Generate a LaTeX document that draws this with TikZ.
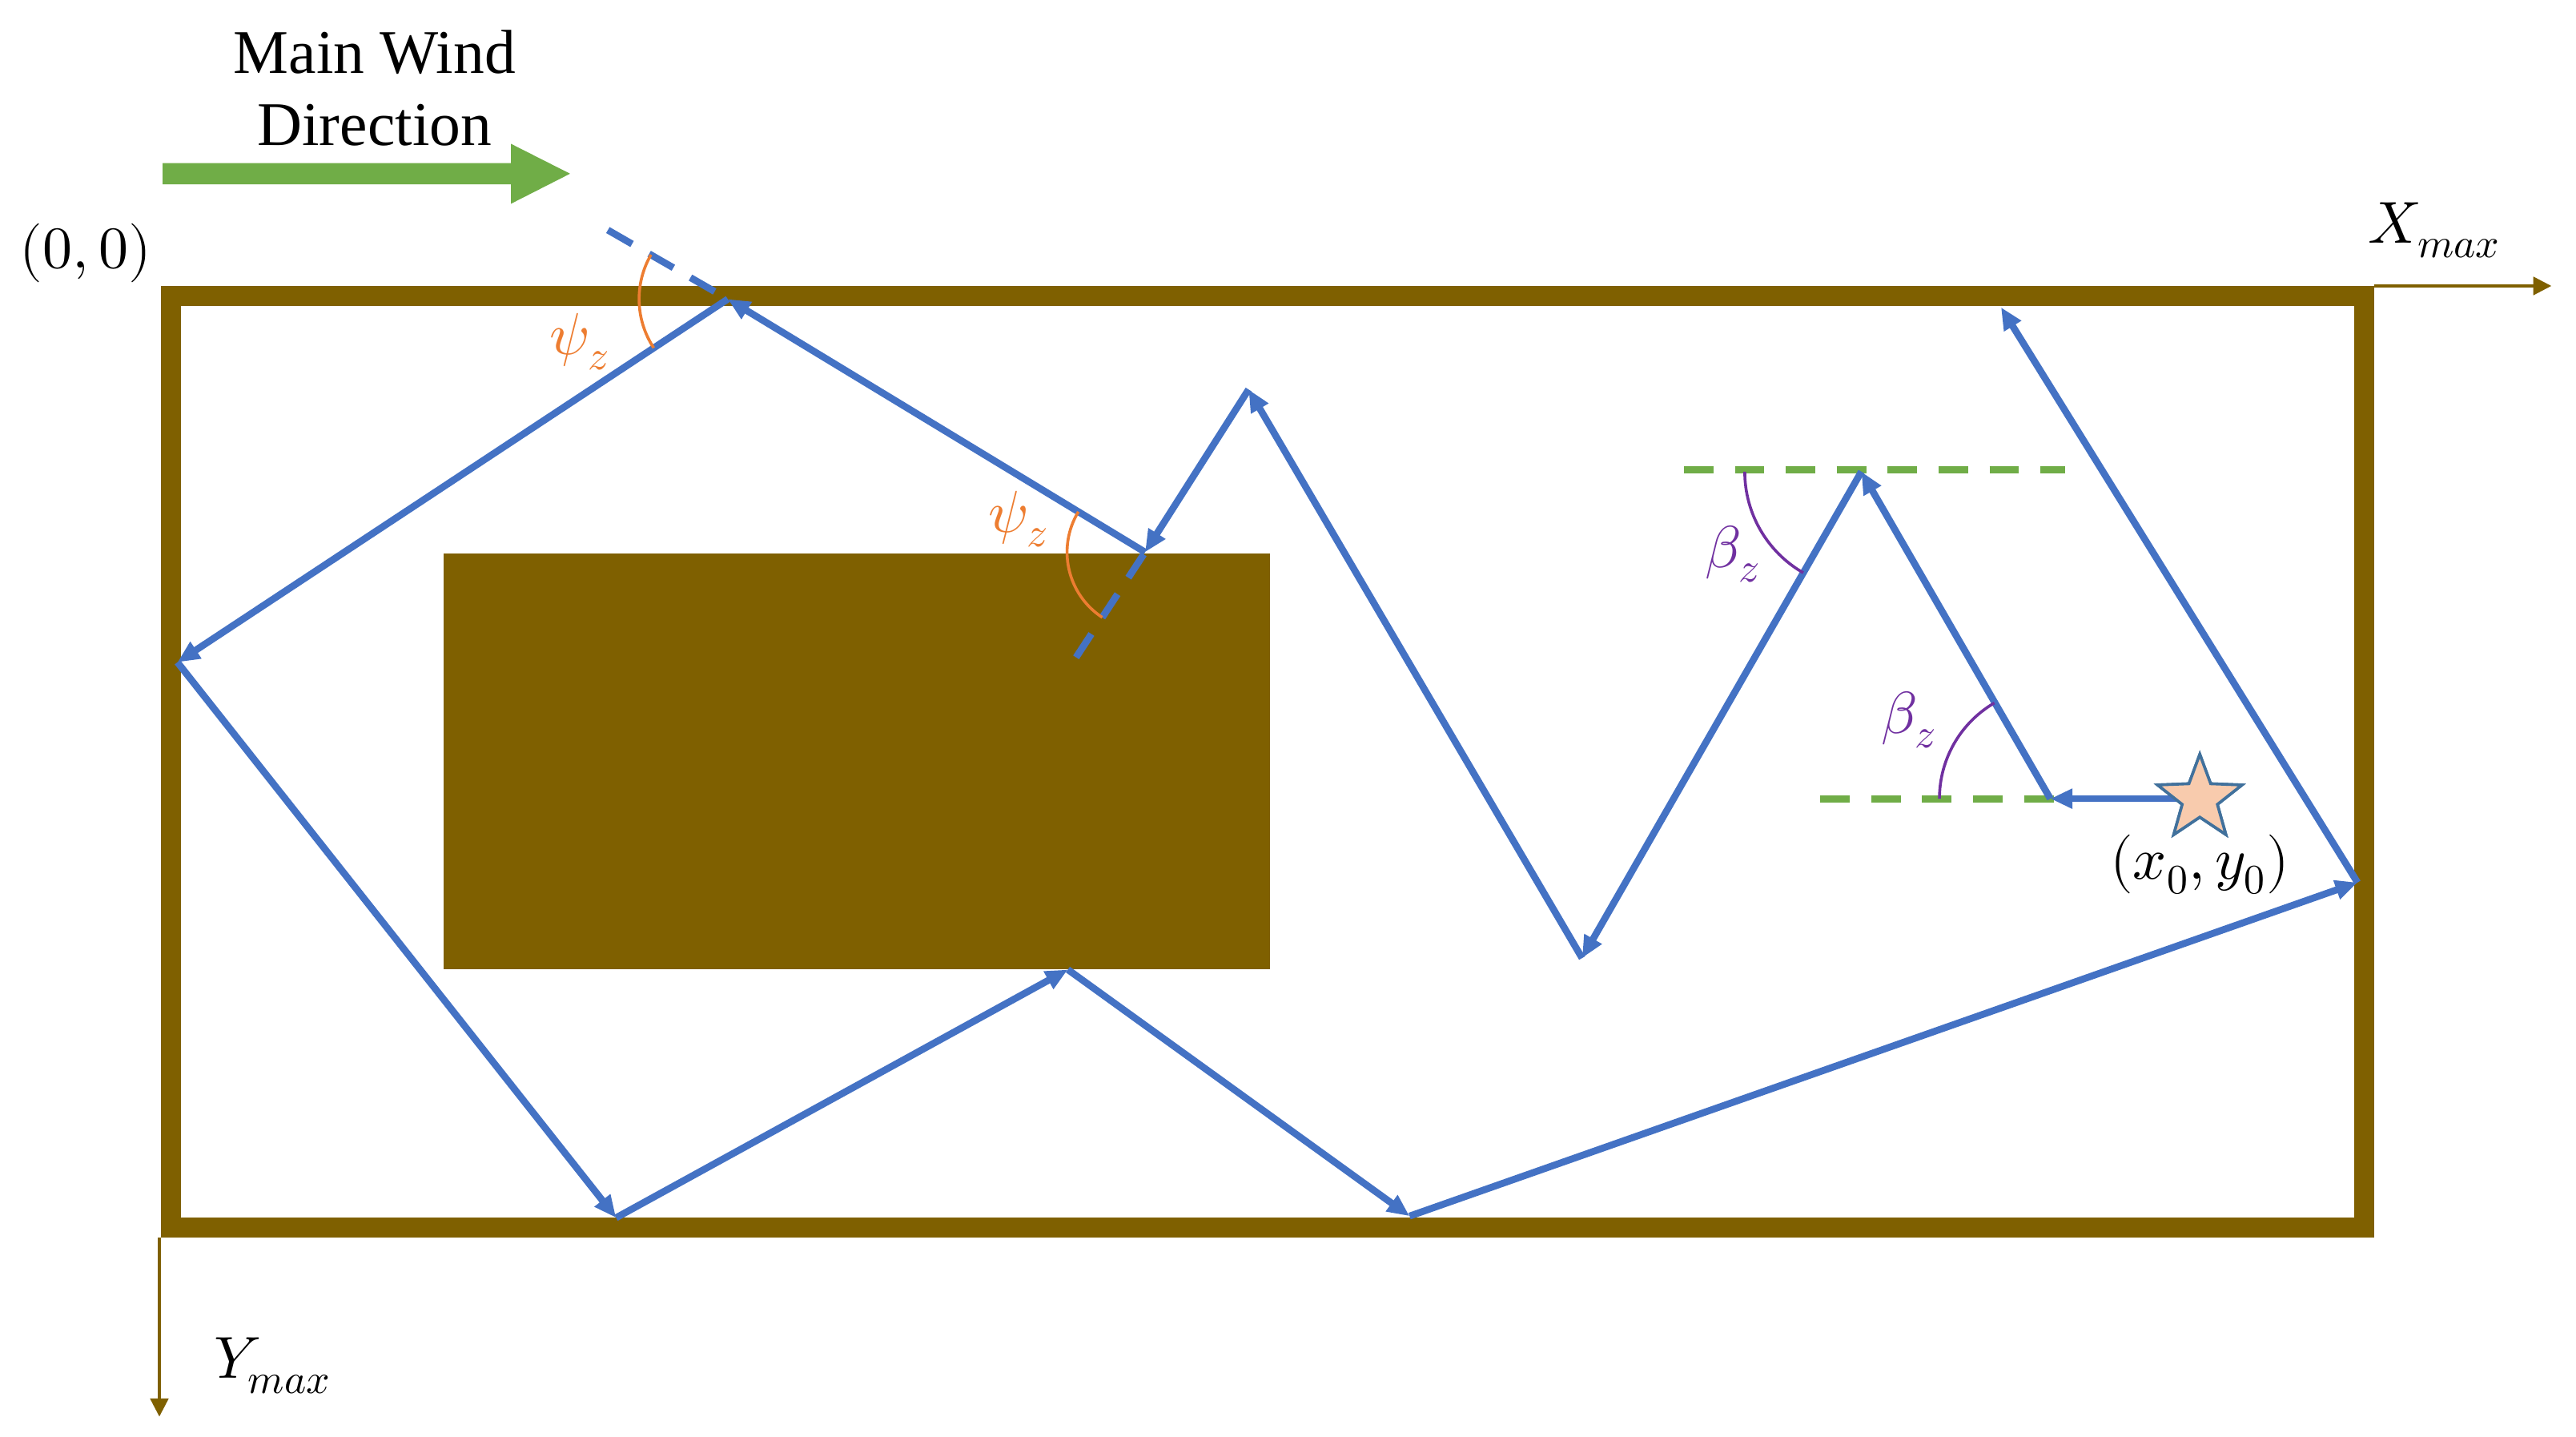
\documentclass[tikz,border=0pt]{standalone}
\usepackage{fontspec}
\usepackage{unicode-math}
\setmainfont{Liberation Serif}
\usetikzlibrary{arrows.meta,shapes.geometric}
\definecolor{framebrown}{HTML}{7F6000}
\definecolor{pathblue}{HTML}{4472C4}
\definecolor{windgreen}{HTML}{70AD47}
\definecolor{anglorange}{HTML}{ED7D31}
\definecolor{anglpurple}{HTML}{7030A0}
\definecolor{starfill}{HTML}{F8CBAD}
\definecolor{staredge}{HTML}{41719C}
\begin{document}
\begin{tikzpicture}[x=0.02cm,y=-0.02cm,
  seg/.style={pathblue, line width=2.4pt, -{Triangle[length=0.27cm,width=0.23cm]}},
  ext/.style={pathblue, line width=2.4pt, dash pattern=on 0.34cm off 0.24cm},
  refline/.style={windgreen, line width=2.5pt, dash pattern=on 0.36cm off 0.26cm},
  axisarrow/.style={framebrown, line width=0.9pt, -{Triangle[length=0.22cm,width=0.22cm]}},
  psiarc/.style={anglorange, line width=1pt},
  betaarc/.style={anglpurple, line width=1pt},
  mathlbl/.style={font=\fontsize{20.5}{24}\selectfont, inner sep=0pt},
  windtxt/.style={font=\fontsize{21.5}{25}\selectfont, inner sep=0pt, anchor=base},
  startstar/.style={star, star points=5, star point ratio=2.4, minimum size=1.08cm, inner sep=0pt,
      fill=starfill, draw=staredge, line width=1pt},
]
\useasboundingbox (0,0) rectangle (1568,874);

% obstacle
\fill[framebrown] (270,337) rectangle (773,590);
% frame
\draw[framebrown, line width=0.24cm] (104,180) rectangle (1439,747);

% axes
\coordinate (TR) at (1445,174);
\coordinate (Xend) at (1553,174);
\coordinate (BL) at (97,753);
\coordinate (Yend) at (97,862);
\draw[axisarrow] (TR) -- (Xend);
\draw[axisarrow] (BL) -- (Yend);

% wind arrow
\fill[windgreen] (99,99.2) -- (311,99.2) -- (311,87.5) -- (347,105.7) -- (311,124) -- (311,112.2) -- (99,112.2) -- cycle;
\node[windtxt] (wind1) at (228,44.7) {Main Wind};
\node[windtxt] (wind2) at (228,88.5) {Direction};

% path points
\node[startstar] (S) at (1339,486) {};
\coordinate (P1) at (1248,486);
\coordinate (P2) at (1133,287);
\coordinate (P3) at (963,583);
\coordinate (P4) at (760,237);
\coordinate (P5) at (697,336);
\coordinate (P6) at (443,182);
\coordinate (P7) at (108,403);
\coordinate (P8) at (375,741);
\coordinate (P9) at (650,590);
\coordinate (P10) at (858,740);
\coordinate (P11) at (1435,537);
\coordinate (P12) at (1218,187);
\coordinate (E1) at (370,140);
\coordinate (E2) at (655,400);
\coordinate (G1a) at (1025,286);
\coordinate (G1b) at (1257,286);
\coordinate (G2a) at (1108,486);
\coordinate (G2b) at (1256,486);

% green reference lines
\draw[refline] (G1a) -- (G1b);
\draw[refline] (G2a) -- (G2b);

% dashed extensions
\draw[ext] (E1) -- (P6);
\draw[ext] (E2) -- (P5);

% path
\draw[seg] (S.center) -- (P1);
\draw[seg] (P1) -- (P2);
\draw[seg] (P2) -- (P3);
\draw[seg] (P3) -- (P4);
\draw[seg] (P4) -- (P5);
\draw[seg] (P5) -- (P6);
\draw[seg] (P6) -- (P7);
\draw[seg] (P7) -- (P8);
\draw[seg] (P8) -- (P9);
\draw[seg] (P9) -- (P10);
\draw[seg] (P10) -- (P11);
\draw[seg] (P11) -- (P12);
% star drawn on top of the start of the path
\node[startstar] (S2) at (S) {};

% angle arcs
\draw[psiarc] ([shift={(150:1.08cm)}]P6) arc[start angle=150, end angle=213.4, radius=1.08cm];
\draw[psiarc] ([shift={(148.8:0.95cm)}]P5) arc[start angle=148.8, end angle=236.7, radius=0.95cm];
\draw[betaarc] ([shift={(180:1.42cm)}]P2) arc[start angle=180, end angle=240.1, radius=1.42cm];
\draw[betaarc] ([shift={(120.3:1.35cm)}]P1) arc[start angle=120.3, end angle=180, radius=1.35cm];

% labels
\node[mathlbl] (origin) at (52,154) {$(0,0)$};
\node[mathlbl] (xmax) at (1482,140) {$X_{max}$};
\node[mathlbl] (ymax) at (166,831) {$Y_{max}$};
\node[mathlbl, text=anglorange] (psi1) at (353,208) {$\psi_z$};
\node[mathlbl, text=anglorange] (psi2) at (620,316) {$\psi_z$};
\node[mathlbl, text=anglpurple] (beta1) at (1055,337) {$\beta_z$};
\node[mathlbl, text=anglpurple] (beta2) at (1162,438) {$\beta_z$};
\node[mathlbl] (start) at (1339,526) {$(x_0,y_0)$};
\end{tikzpicture}
\end{document}
